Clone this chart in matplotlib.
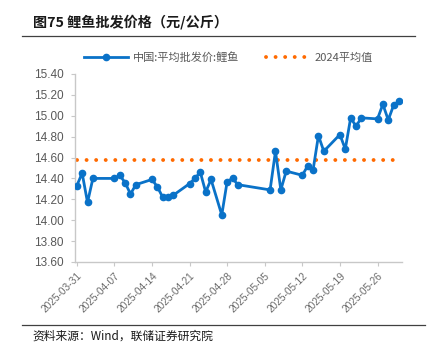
import numpy as np
import pandas as pd
import matplotlib
matplotlib.use('Agg')
import matplotlib.pyplot as plt
from matplotlib.lines import Line2D

# data
dates = ['2025-03-31', '2025-04-01', '2025-04-02', '2025-04-03', '2025-04-07',
         '2025-04-08', '2025-04-09', '2025-04-10', '2025-04-11', '2025-04-14',
         '2025-04-15', '2025-04-16', '2025-04-17', '2025-04-18', '2025-04-21',
         '2025-04-22', '2025-04-23', '2025-04-24', '2025-04-25', '2025-04-27',
         '2025-04-28', '2025-04-29', '2025-04-30', '2025-05-06', '2025-05-07',
         '2025-05-08', '2025-05-09', '2025-05-12', '2025-05-13', '2025-05-14',
         '2025-05-15', '2025-05-16', '2025-05-19', '2025-05-20', '2025-05-21',
         '2025-05-22', '2025-05-23', '2025-05-26', '2025-05-27', '2025-05-28',
         '2025-05-29', '2025-05-30']
carp_price = [14.33, 14.45, 14.17, 14.40, 14.40, 14.43, 14.36, 14.25, 14.34, 14.39,
              14.32, 14.22, 14.22, 14.24, 14.35, 14.40, 14.46, 14.27, 14.39, 14.05,
              14.37, 14.40, 14.34, 14.29, 14.66, 14.29, 14.47, 14.43, 14.52, 14.48,
              14.81, 14.66, 14.82, 14.68, 14.98, 14.90, 14.98, 14.97, 15.11, 14.96,
              15.10, 15.14]
avg_2024 = 14.58
y_ticks = [13.60, 13.80, 14.00, 14.20, 14.40, 14.60, 14.80, 15.00, 15.20, 15.40]
x_tick_labels = ['2025-03-31', '2025-04-07', '2025-04-14', '2025-04-21', '2025-04-28',
                 '2025-05-05', '2025-05-12', '2025-05-19', '2025-05-26']
series_name = '中国:平均批发价:鲤鱼'
avg_name = '2024平均值'
title = '图75 鲤鱼批发价格（元/公斤）'
source = '资料来源：Wind，联储证券研究院'

cjk = ['Noto Sans CJK SC', 'DejaVu Sans']
num_font = ['Liberation Sans', 'Noto Sans CJK SC']
blue = '#0A72C8'
orange = '#FF6A00'
gray = '#595959'

x = pd.to_datetime(dates)

fig = plt.figure(figsize=(4.35, 3.54), dpi=100)
ax = fig.add_axes([0.1724, 0.26, 0.752, 0.531])

ax.plot(x, carp_price, color=blue, lw=2.0, marker='o', ms=4.5,
        solid_joinstyle='round', zorder=3)
ax.plot([x[0], x[-1]], [avg_2024, avg_2024], color=orange, lw=2.8,
        linestyle=(0, (0.01, 2.45)), dash_capstyle='round', zorder=2)

ax.set_ylim(13.60, 15.40)
ax.set_yticks(y_ticks)
ax.set_yticklabels([f'{v:.2f}' for v in y_ticks], fontsize=8.5,
                   color=gray, family=num_font)
ax.set_xlim(x[0] - pd.Timedelta(hours=8), x[-1] + pd.Timedelta(hours=14))
ax.set_xticks(pd.to_datetime(x_tick_labels))
ax.set_xticklabels(x_tick_labels, rotation=45, ha='right', rotation_mode='anchor',
                   fontsize=7.3, color='#6a6a6a', family=num_font)

for s in ['top', 'right']:
    ax.spines[s].set_visible(False)
for s in ['left', 'bottom']:
    ax.spines[s].set_color('#C8C8C8')
    ax.spines[s].set_linewidth(1.0)
ax.tick_params(axis='both', color='#C8C8C8', length=3, width=0.8)
ax.tick_params(axis='y', pad=5)
ax.tick_params(axis='x', pad=3)

handles = [Line2D([], [], color=blue, lw=2.0, marker='o', ms=4.5),
           Line2D([], [], color=orange, lw=2.8, linestyle=(0, (0.01, 2.45)),
                  dash_capstyle='round')]
fig.legend(handles, [series_name, avg_name], loc='center', ncol=2,
           bbox_to_anchor=(0.525, 0.838), frameon=False, handlelength=3.9,
           columnspacing=2.4, handletextpad=0.45, numpoints=1,
           prop={'family': cjk, 'size': 8}, labelcolor=gray)

fig.text(0.076, 0.937, title, fontsize=10.2, fontweight='bold', family=cjk,
         color='#1a1a1a', va='center')
fig.add_artist(Line2D([22 / 435, 415 / 435], [1 - 36 / 354, 1 - 36 / 354],
                      color='#404040', lw=0.9))
fig.add_artist(Line2D([22 / 435, 425 / 435], [1 - 325 / 354, 1 - 325 / 354],
                      color='#404040', lw=0.9))
fig.text(0.074, 1 - 336 / 354, source, fontsize=8.5, family=cjk,
         color='#1a1a1a', va='center')

fig.savefig('out.png', dpi=100)
